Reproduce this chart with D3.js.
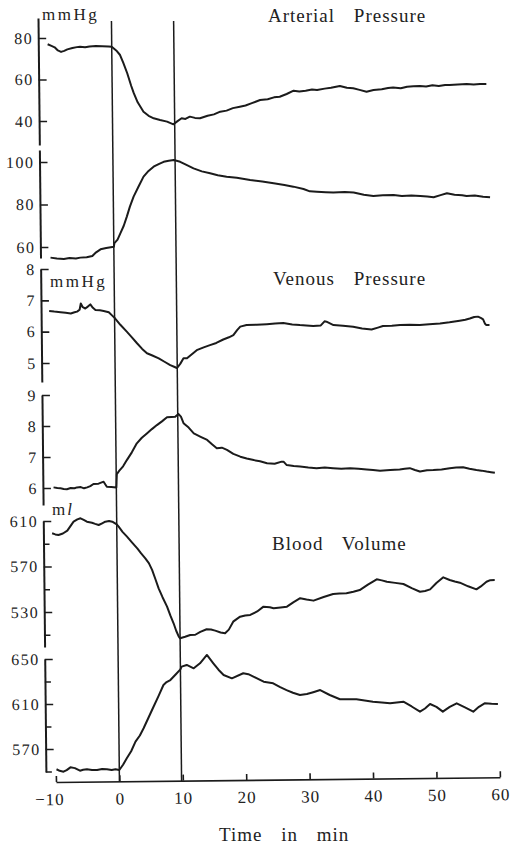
<!DOCTYPE html>
<html>
<head>
<meta charset="utf-8">
<script src="https://cdn.jsdelivr.net/npm/d3@7"></script>
<style>
  body { margin: 0; background: #fff; }
</style>
</head>
<body>
<svg id="chart" width="513" height="847"></svg>
<script>
// time axis (min) and the two event markers
const xTicks = [-10, 0, 10, 20, 30, 40, 50, 60];
const markerTimes = [0, 9.8];

const titles = ["Arterial Pressure", "Venous Pressure", "Blood Volume"];
const xTitle = "Time in min";

// traces, [min, value]
const arterialTop = [[-10.1,77],[-9.5,76.2],[-9,75.5],[-8.5,74],[-8,73.3],[-7.5,73.8],[-7,74.5],[-6.2,75.2],[-5.5,75.6],[-5,75.8],[-4.2,75.5],[-3.5,75.9],[-2.5,76.1],[-1.5,76],[-0.5,75.9],[0,75.8],[0.7,74],[1.3,71.8],[1.8,68],[2.4,63],[3,57],[3.4,53.4],[4,49],[4.9,44.5],[5.7,42.5],[6.5,41.3],[7.5,40.5],[8.6,39.7],[9.6,38.4],[10.2,39.8],[10.9,41.3],[11.5,41],[12.2,42.1],[13,41.5],[13.8,41.3],[15,42.5],[16,43.2],[17,44.5],[18,45],[19,46.2],[20.1,46.9],[21,47.5],[22,48.6],[23.3,50.1],[24.5,50.5],[25.5,51.4],[26.4,51.7],[27.5,53],[28.6,54.6],[29.5,54.2],[30.5,54.6],[31.5,55.2],[32.3,54.9],[33.5,55.6],[34.5,56],[35.9,56.9],[37,56],[38,55.8],[39,55],[40.1,54.1],[41.2,54.9],[42.5,55.3],[43.5,55.9],[44.3,56.2],[45.5,55.8],[46.5,56.5],[47.5,56.7],[48.5,56.9],[49.5,56.6],[50.5,57.2],[51.5,56.9],[52.5,57.4],[53.2,57.3],[54.5,57.6],[55.9,57.8],[57,57.6],[58,57.8],[59,57.8]];

const arterialBottom = [[-10,55],[-9,54.6],[-7.9,54.4],[-7,54.8],[-6,54.6],[-5.3,55],[-4.3,55.2],[-3.4,55.8],[-2.8,57.5],[-2.1,58.9],[-1.2,59.5],[0,60.1],[0.1,61.8],[0.6,63.5],[1.05,66.4],[1.6,70],[2.1,74.3],[2.6,79],[3.2,83.7],[4,88.5],[4.8,93.1],[5.6,95.8],[6.4,97.8],[7.2,99],[8,100.1],[8.8,100.6],[9.6,100.9],[10.6,100.1],[11.5,98.8],[12.7,97],[14,95.6],[15.3,94.7],[16.5,93.8],[17.9,93.1],[19.5,92.6],[21.6,91.5],[23.5,90.8],[25.3,90],[27,89.2],[28.4,88.4],[30,87.3],[31,86.2],[32.1,86],[33.5,85.8],[34.7,85.6],[36.5,85.9],[37.9,85.6],[39.5,84.6],[41,84],[42.5,84.3],[44.2,84.5],[45.5,84],[47,84.2],[48.4,84],[49.5,83.8],[50.5,83.4],[51.6,84.4],[52.6,85.3],[53.8,84.6],[55,84.4],[55.7,84],[57,84.2],[58.3,83.6],[59.4,83.4]];

const venousTop = [[-10.3,6.66],[-9.5,6.64],[-8.5,6.62],[-7.7,6.6],[-6.9,6.58],[-6.3,6.62],[-5.9,6.64],[-5.5,6.7],[-5.3,6.9],[-5,6.78],[-4.6,6.74],[-4.2,6.8],[-3.8,6.87],[-3.4,6.76],[-3,6.69],[-2.3,6.68],[-1.7,6.66],[-0.9,6.62],[-0.4,6.52],[0.1,6.42],[0.9,6.22],[1.9,6.0],[2.7,5.82],[3.5,5.63],[4.3,5.45],[5.05,5.31],[5.9,5.24],[6.9,5.15],[7.8,5.04],[8.7,4.93],[9.3,4.88],[9.75,4.84],[10.3,4.98],[10.8,5.15],[11.35,5.15],[12.9,5.41],[14,5.5],[15,5.57],[16,5.64],[17.1,5.75],[18,5.82],[18.7,5.89],[19.3,6.05],[19.8,6.16],[20.8,6.21],[22.4,6.22],[24,6.24],[25.3,6.26],[26.6,6.28],[28,6.23],[29.2,6.21],[30.2,6.2],[31.3,6.18],[32.5,6.2],[33.1,6.33],[33.4,6.32],[34.5,6.21],[36,6.19],[37.6,6.16],[39,6.1],[40.5,6.07],[41.5,6.13],[42.3,6.18],[43.7,6.19],[45,6.21],[46.5,6.22],[48.1,6.21],[49.6,6.24],[51.3,6.26],[52.8,6.3],[54.4,6.35],[55.3,6.38],[56,6.42],[56.7,6.47],[57.3,6.48],[57.8,6.43],[58.1,6.39],[58.4,6.25],[58.6,6.21],[59.1,6.21]];

const venousBottom = [[-9.9,6.02],[-9.3,6.0],[-8.8,5.99],[-8.3,5.97],[-7.8,5.96],[-7.2,6.0],[-6.6,5.99],[-6.2,6.02],[-5.6,6.03],[-5.1,5.99],[-4.6,6.02],[-4.1,6.06],[-3.6,6.13],[-2.8,6.14],[-2.3,6.18],[-2,6.2],[-1.5,6.04],[-0.8,6.03],[0,6.02],[0.1,6.45],[0.5,6.56],[1.1,6.7],[1.7,6.9],[2.5,7.15],[3.3,7.44],[4.1,7.62],[4.9,7.76],[5.7,7.9],[6.5,8.03],[7.3,8.15],[8.1,8.28],[8.8,8.29],[9.4,8.3],[9.9,8.39],[10.3,8.3],[10.7,8.09],[11.5,7.95],[12.3,7.76],[13.3,7.66],[14.4,7.55],[15.2,7.4],[15.9,7.28],[16.7,7.3],[17.5,7.23],[18.5,7.1],[19.6,7.01],[20.6,6.95],[21.7,6.9],[22.7,6.86],[23.8,6.8],[25,6.78],[26.1,6.85],[26.4,6.85],[26.9,6.74],[28,6.71],[29,6.69],[30.3,6.66],[31.6,6.64],[32.9,6.66],[34.2,6.64],[35.5,6.62],[36.9,6.64],[38.2,6.62],[39.5,6.6],[40.5,6.58],[41.6,6.56],[43.2,6.58],[44.7,6.6],[45.5,6.62],[46.3,6.64],[47.1,6.58],[47.9,6.53],[49,6.57],[50,6.58],[51.3,6.6],[52.6,6.64],[53.6,6.66],[54.7,6.67],[55.7,6.62],[56.8,6.58],[57.6,6.56],[58.4,6.53],[59.1,6.51],[59.7,6.49]];

const volumeTop = [[-10.2,599.2],[-9.7,598.2],[-9.2,597.7],[-8.5,599],[-7.8,601.5],[-7.3,605.5],[-6.8,609.4],[-6.2,611.4],[-5.7,612.4],[-5.2,611],[-4.7,609.4],[-3.9,608.5],[-3.4,607.5],[-2.85,606.5],[-2.3,608],[-1.8,609.4],[-1.2,610],[-0.7,609.4],[0,607],[0.3,605],[0.9,600.5],[1.6,596.2],[2.4,591],[3.2,586],[3.8,581.5],[4.45,577.2],[5,573],[5.5,567],[6,559],[6.5,550.8],[7.1,543],[7.8,534.7],[8.3,527],[8.8,520.1],[9.2,513.5],[9.6,508.3],[9.8,506.9],[10.6,508.2],[11.4,509.8],[12.2,510],[13,512.5],[14,514.8],[14.7,514.6],[15.35,513.6],[16.2,512],[16.9,511.3],[17.5,514.5],[18.2,521.5],[18.8,524],[19.3,525.9],[20.1,527],[20.9,527.4],[22,530.5],[23,534.7],[24,534.2],[24.6,533.3],[25.7,534],[26.7,534.7],[27.7,538.5],[28.8,542.1],[29.8,541],[30.9,540],[32.5,543.2],[34,545.8],[35,546.2],[36.1,546.4],[37.2,547.8],[38.2,549.3],[39.5,554],[40.9,558.7],[41.7,557.8],[42.5,556.6],[43.8,555.6],[45.1,554.6],[46.4,551],[47.7,547.8],[48.5,548.5],[49.3,549.9],[50.3,555.5],[51.4,560.5],[52.4,558.1],[53.2,556.8],[54,555.8],[55.3,552.6],[56.6,549.9],[57.3,552.5],[58.2,556.6],[58.8,558],[59.5,558.1]];

const volumeBottom = [[-9.9,552],[-9.4,550.6],[-8.8,549.8],[-8.3,551.2],[-7.7,553.7],[-7,553],[-6.2,550.7],[-5.7,551.5],[-5.1,552],[-4.3,551.4],[-3.5,551.3],[-2.7,552.2],[-1.95,552],[-1.2,551.4],[-0.6,552],[0,551.3],[0.6,556],[1.2,561.7],[1.9,568],[2.6,576.5],[3.3,582],[3.9,588.4],[4.7,598],[5.5,607.6],[6.3,617],[7.1,626.9],[7.6,629.5],[8.2,631.3],[9,636],[9.8,640.8],[10,643.2],[10.8,644.7],[11.9,641.7],[12.9,646.2],[14,653.6],[15,646.2],[15.8,640.5],[16.6,635.8],[17.9,632.8],[19.7,637.3],[20.5,636.5],[21.3,634.3],[22.9,629.8],[24.4,628.4],[25.5,625],[26.5,622.4],[27.5,620],[28.6,618],[29.7,618.9],[30.7,620.5],[31.8,622.4],[33.3,618],[34.9,614.2],[36.2,614.3],[37.5,614.2],[38.8,613.2],[40.1,612.1],[41.5,611.3],[42.8,610.6],[44.9,612.1],[46.2,607.8],[47.5,603.2],[48.3,606],[49.1,610],[50.1,607.4],[51.1,603.2],[52.2,607.5],[53.3,610.6],[54.6,607],[55.9,603.2],[56.8,607.5],[57.7,610.6],[58.8,610.2],[59.8,610]];

// tick values per strip
const arterialTopTicks = [40, 60, 80];
const arterialBottomTicks = [60, 80, 100];
const venousTopTicks = [5, 6, 7, 8];
const venousBottomTicks = [6, 7, 8, 9];
const volumeTopTicks = [530, 570, 610];
const volumeTopMinor = [510, 550, 590];
const volumeBottomTicks = [570, 610, 650];
const volumeBottomMinor = [550, 590, 630];

// layout: two calibration points (value@pixel) and the axis extent for every strip
const axisX = 46;
const baseY = 782;
const panels = [
  {data: arterialTop,    a: [80, 38],   b: [40, 121], top: 18,  bottom: 145, ticks: arterialTopTicks,    minor: []},
  {data: arterialBottom, a: [100, 162], b: [60, 247], top: 150, bottom: 258, ticks: arterialBottomTicks, minor: []},
  {data: venousTop,      a: [8, 269],   b: [5, 363],  top: 269, bottom: 382, ticks: venousTopTicks,      minor: []},
  {data: venousBottom,   a: [9, 395],   b: [6, 488],  top: 395, bottom: 505, ticks: venousBottomTicks,   minor: []},
  {data: volumeTop,      a: [610, 521], b: [530, 612], top: 521, bottom: 647, ticks: volumeTopTicks,     minor: volumeTopMinor},
  {data: volumeBottom,   a: [650, 659], b: [570, 749], top: 659, bottom: 772, ticks: volumeBottomTicks,  minor: volumeBottomMinor}
];

const ink = "#1b1b1b";
const serif = "'Liberation Serif', monospace";
const svg = d3.select("#chart");
svg.append("rect").attr("width", 513).attr("height", 847).attr("fill", "#fff");

// the scanned sheet leans a little; skew everything about the time axis
const chart = svg.append("g")
  .attr("transform", "translate(0," + baseY + ") skewX(0.6) translate(0," + (-baseY) + ")");

let x = d3.scaleLinear().domain([-10, 60]).range([56, 500]);

panels.forEach((p) => {
  let cal = d3.scaleLinear().domain([p.a[0], p.b[0]]).range([p.a[1], p.b[1]]);
  let y = d3.scaleLinear()
    .domain([cal.invert(p.bottom), cal.invert(p.top)])
    .range([p.bottom, p.top]);

  let yAxis = d3.axisLeft(y).tickValues(p.ticks).tickSizeInner(-8).tickSizeOuter(0)
    .tickPadding(5).tickFormat(d3.format("d"));

  let g = chart.append("g")
    .attr("class", "y axis")
    .attr("transform", "translate(" + axisX + ",0)")
    .call(yAxis);
  g.select(".domain").attr("stroke", ink).attr("stroke-width", 2);
  g.selectAll(".tick line").attr("stroke", ink).attr("stroke-width", 1.6);
  g.selectAll(".tick text")
    .style("font-family", serif).style("font-size", "16px")
    .style("letter-spacing", "1.5px").attr("fill", "#222");

  if (p.minor.length > 0) {
    chart.append("g")
      .attr("transform", "translate(" + axisX + ",0)")
      .call(d3.axisLeft(y).tickValues(p.minor).tickSizeInner(-6).tickSizeOuter(0).tickFormat(""))
      .call(m => m.select(".domain").remove())
      .selectAll(".tick line").attr("stroke", ink).attr("stroke-width", 1.5);
  }

  let valueline = d3.line()
    .x((d) => { return x(d[0]); })
    .y((d) => { return y(d[1]); });

  chart.append("path")
    .datum(p.data)
    .attr("class", "line")
    .attr("fill", "none")
    .attr("stroke", ink)
    .attr("stroke-width", 2)
    .attr("stroke-linejoin", "round")
    .attr("d", valueline);
});

// event markers
chart.selectAll(".marker")
  .data(markerTimes)
  .enter().append("line")
    .attr("class", "marker")
    .attr("x1", (d) => x(d)).attr("x2", (d) => x(d))
    .attr("y1", 21).attr("y2", baseY)
    .attr("stroke", ink).attr("stroke-width", 1.5);

// time axis
let xAxis = d3.axisBottom(x).tickValues(xTicks).tickSizeInner(-6).tickSizeOuter(0)
  .tickPadding(11).tickFormat(d3.format("d"));
let gx = chart.append("g")
  .attr("class", "x axis")
  .attr("transform", "translate(0," + baseY + ") rotate(-0.62," + x(-10) + ",0)")
  .call(xAxis);
gx.select(".domain").attr("stroke", ink).attr("stroke-width", 1.6);
gx.selectAll(".tick line").attr("stroke", ink).attr("stroke-width", 1.6);
gx.selectAll(".tick text")
  .style("font-family", serif).style("font-size", "17px")
  .style("letter-spacing", "1px").attr("fill", "#222")
  .attr("dx", (d) => d < 0 ? -7 : 0);

// titles and units
const titlePos = [[268, 22], [273, 285], [272, 550]];
svg.selectAll(".title")
  .data(titles)
  .enter().append("text")
    .attr("class", "title")
    .attr("x", (d, i) => titlePos[i][0])
    .attr("y", (d, i) => titlePos[i][1])
    .attr("fill", "#222")
    .style("font-family", serif).style("font-size", "19px")
    .style("letter-spacing", "1px")
    .style("word-spacing", "13px")
    .text((d) => d);

svg.append("text")
  .attr("x", 219).attr("y", 841)
  .attr("fill", "#222")
  .style("font-family", serif).style("font-size", "19px")
  .style("letter-spacing", "1px")
  .style("word-spacing", "13px")
  .text(xTitle);

svg.append("text").attr("x", 42).attr("y", 20)
  .attr("fill", "#222")
  .style("font-family", serif).style("font-size", "17px")
  .style("letter-spacing", "2.5px").text("mmHg");
svg.append("text").attr("x", 50).attr("y", 287)
  .attr("fill", "#222")
  .style("font-family", serif).style("font-size", "17px")
  .style("letter-spacing", "2.5px").text("mmHg");
let ml = svg.append("text").attr("x", 52).attr("y", 515)
  .attr("fill", "#222")
  .style("font-family", serif).style("font-size", "17px");
ml.append("tspan").text("m");
ml.append("tspan").attr("dx", 2).style("font-style", "italic").text("l");
</script>
</body>
</html>
